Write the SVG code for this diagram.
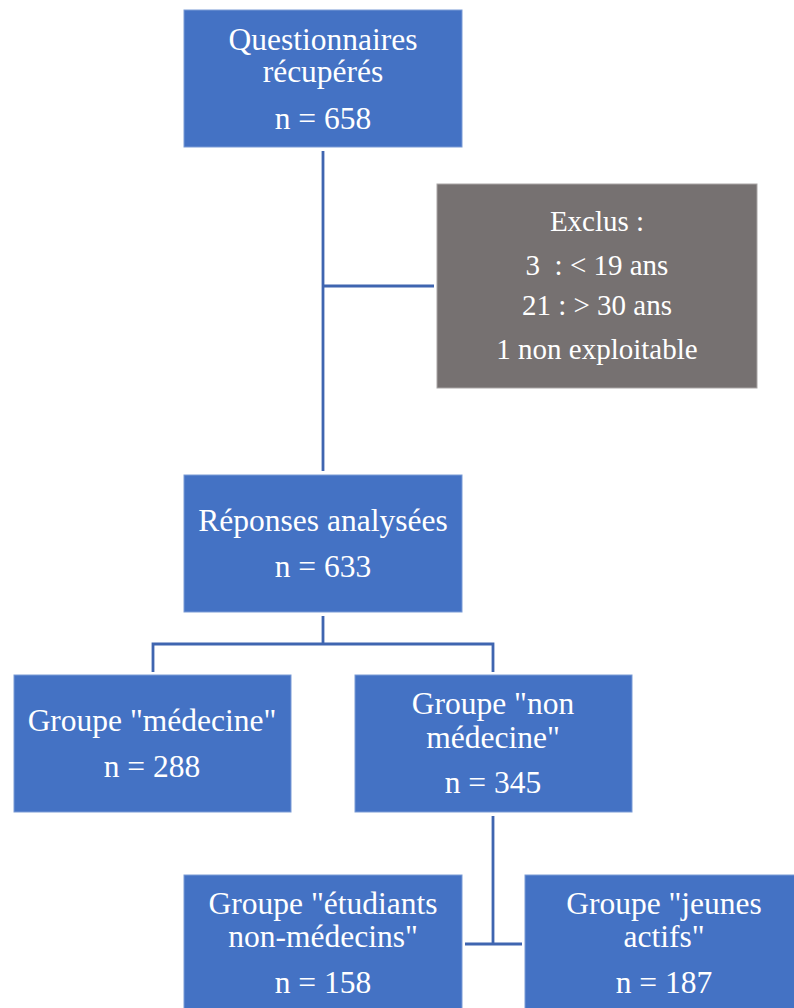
<svg xmlns="http://www.w3.org/2000/svg" width="794" height="1008" viewBox="0 0 794 1008">
<style>
.box{fill:#4472C4;stroke:#7A9BD6;stroke-width:1}
.gray{fill:#767171;stroke:#A9A6A6;stroke-width:1}
.t{font-family:'Liberation Serif','Times New Roman',serif;font-size:31.5px;fill:#FFFFFF;text-anchor:middle}
.t2{font-family:'Liberation Serif','Times New Roman',serif;font-size:29px;fill:#FFFFFF;text-anchor:middle}
.c{fill:none;stroke:#3F65B0;stroke-width:2.8}
</style>
<rect width="794" height="1008" fill="#FFFFFF"/>
<g id="connectors">
<path class="c" d="M323 151V471"/>
<path class="c" d="M323 286H434"/>
<path class="c" d="M323 616V644M153 672V644H493V672"/>
<path class="c" d="M493 816V944M465 944H522"/>
</g>
<g id="questionnaires">
<rect class="box" x="184" y="10" width="278" height="137"/>
<text class="t" x="323" y="50">Questionnaires</text>
<text class="t" x="323" y="82">récupérés</text>
<text class="t" x="323" y="129">n = 658</text>
</g>
<g id="exclus">
<rect class="gray" x="437" y="184" width="320" height="204"/>
<text class="t2" x="597" y="231">Exclus :</text>
<text class="t2" x="597" y="275" xml:space="preserve">3  : &lt; 19 ans</text>
<text class="t2" x="597" y="315">21 : &gt; 30 ans</text>
<text class="t2" x="597" y="359">1 non exploitable</text>
</g>
<g id="reponses">
<rect class="box" x="184" y="475" width="278" height="137"/>
<text class="t" x="323" y="531">Réponses analysées</text>
<text class="t" x="323" y="577">n = 633</text>
</g>
<g id="medecine">
<rect class="box" x="14" y="675" width="277" height="137"/>
<text class="t" x="152" y="731">Groupe "médecine"</text>
<text class="t" x="152" y="777">n = 288</text>
</g>
<g id="non-medecine">
<rect class="box" x="355" y="675" width="277" height="137"/>
<text class="t" x="493" y="714">Groupe "non</text>
<text class="t" x="493" y="748">médecine"</text>
<text class="t" x="493" y="793">n = 345</text>
</g>
<g id="etudiants">
<rect class="box" x="184" y="875" width="278" height="137"/>
<text class="t" x="323" y="914">Groupe "étudiants</text>
<text class="t" x="323" y="947">non-médecins"</text>
<text class="t" x="323" y="993">n = 158</text>
</g>
<g id="jeunes-actifs">
<rect class="box" x="525" y="875" width="278" height="137"/>
<text class="t" x="664" y="914">Groupe "jeunes</text>
<text class="t" x="664" y="947">actifs"</text>
<text class="t" x="664" y="993">n = 187</text>
</g>
</svg>
